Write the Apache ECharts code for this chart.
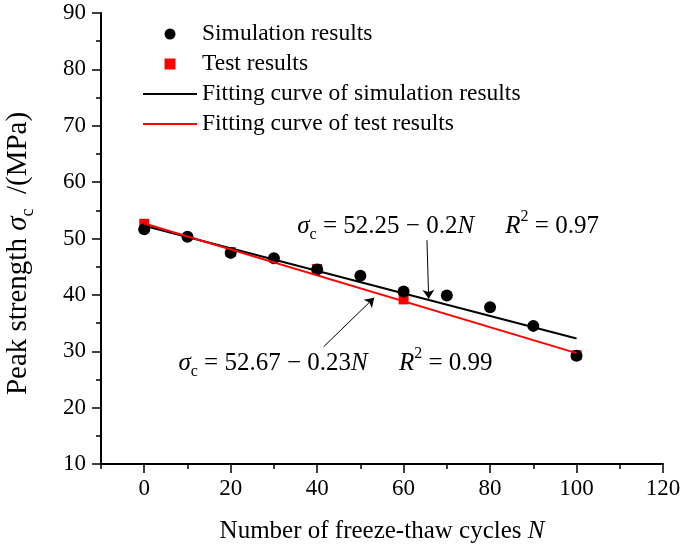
<!DOCTYPE html>
<html>
<head>
<meta charset="utf-8">
<script src="https://cdn.jsdelivr.net/npm/echarts@6/dist/echarts.min.js"></script>
<style>html,body{margin:0;padding:0;background:#fff}#chart{width:685px;height:553px}</style>
</head>
<body>
<div id="chart"></div>
<script>
// ---- data ----
var cycles = [0, 10, 20, 30, 40, 50, 60, 70, 80, 90, 100];
var simValues = [51.65, 50.3, 47.45, 46.5, 44.5, 43.4, 40.6, 39.9, 37.8, 34.5, 29.2];
var testCycles = [0, 20, 40, 60, 100];
var testValues = [52.6, 47.6, 44.6, 39.2, 29.3];
var simFitX = [0, 100];
var simFitY = [52.25, 32.25];
var testFitX = [0, 100];
var testFitY = [52.67, 29.67];
var xMajorTicks = [0, 20, 40, 60, 80, 100, 120];
var seriesNames = ['Simulation results', 'Test results', 'Fitting curve of simulation results', 'Fitting curve of test results'];

function pairs(xs, ys) { return xs.map(function (x, i) { return [x, ys[i]]; }); }

var FONT = 'Liberation Serif';
function makeRich(size, subSize, lh) {
  return {
    t: { fontFamily: FONT, fontSize: size, color: '#000', lineHeight: lh },
    it: { fontFamily: FONT, fontSize: size, fontStyle: 'italic', color: '#000', lineHeight: lh },
    sub: { fontFamily: FONT, fontSize: subSize, color: '#000', lineHeight: subSize, verticalAlign: 'bottom' },
    sup: { fontFamily: FONT, fontSize: subSize, color: '#000', lineHeight: subSize, verticalAlign: 'top' }
  };
}
var eqRich = makeRich(25, 16, 34);
var xNameRich = makeRich(25, 16, 30);
var yNameRich = makeRich(29, 18, 38);

var LINE_ICON = 'path://M0,0L54,0L54,2L0,2Z';
var SQUARE_ICON = 'path://M0,0L10,0L10,10L0,10Z';

var chart = echarts.init(document.getElementById('chart'));
var option = {
  animation: false,
  backgroundColor: '#fff',
  grid: { left: 101, right: 22, top: 13, bottom: 89, outerBoundsMode: 'none', containLabel: false },
  legend: {
    orient: 'vertical', left: 143, top: 22, padding: 0,
    itemWidth: 54, itemHeight: 11, itemGap: 6,
    textStyle: { fontFamily: FONT, fontSize: 23.5, color: '#000' },
    data: [
      { name: seriesNames[0], icon: 'circle', itemStyle: { color: '#000', opacity: 1 } },
      { name: seriesNames[1], icon: SQUARE_ICON, itemStyle: { color: '#f00', opacity: 1 } },
      { name: seriesNames[2], icon: LINE_ICON, itemStyle: { color: '#000' } },
      { name: seriesNames[3], icon: LINE_ICON, itemStyle: { color: '#f00' } }
    ]
  },
  xAxis: [{
    type: 'value', min: -10, max: 120, interval: 10,
    splitLine: { show: false },
    axisLine: { onZero: false, lineStyle: { color: '#000', width: 2 } },
    axisTick: { length: 5, lineStyle: { color: '#000', width: 1.5 } },
    axisLabel: { margin: 13, fontFamily: FONT, fontSize: 23, color: '#000',
      formatter: function (v) { return (v % 20 === 0) ? String(v) : ''; } },
    name: '{t|Number of freeze-thaw cycles }{it|N}',
    nameLocation: 'middle', nameGap: 52,
    nameTextStyle: { rich: xNameRich }
  }, {
    type: 'value', min: -10, max: 120, position: 'bottom', offset: 0,
    splitLine: { show: false },
    axisLine: { show: false },
    axisTick: { length: 9, customValues: xMajorTicks, lineStyle: { color: '#000', width: 1.5 } },
    axisLabel: { show: false, customValues: xMajorTicks }
  }],
  yAxis: {
    type: 'value', min: 10, max: 90, interval: 10,
    splitLine: { show: false },
    axisLine: { onZero: false, lineStyle: { color: '#000', width: 2 } },
    axisTick: { length: 9, lineStyle: { color: '#000', width: 1.5 } },
    minorTick: { show: true, splitNumber: 2, length: 5, lineStyle: { color: '#000', width: 1.5 } },
    axisLabel: { margin: 15, fontFamily: FONT, fontSize: 23, color: '#000' },
    name: '{t|Peak strength }{it|σ}{sub|c}{t|  /(MPa)}',
    nameLocation: 'middle', nameGap: 64, nameRotate: 90,
    nameTextStyle: { rich: yNameRich, padding: [0, 30, 0, 0] }
  },
  series: [
    {
      name: seriesNames[1], type: 'scatter', symbol: 'rect', symbolSize: 10,
      itemStyle: { color: '#f00', opacity: 1 }, z: 2,
      data: pairs(testCycles, testValues)
    },
    {
      name: seriesNames[0], type: 'scatter', symbol: 'circle', symbolSize: 12,
      itemStyle: { color: '#000', opacity: 1 }, z: 3,
      data: pairs(cycles, simValues)
    },
    {
      name: seriesNames[2], type: 'line', symbol: 'none', z: 4,
      lineStyle: { color: '#000', width: 2 }, itemStyle: { color: '#000' },
      data: pairs(simFitX, simFitY),
      markLine: {
        silent: true, symbol: ['none', 'arrow'], symbolSize: 9,
        lineStyle: { color: '#000', width: 1, type: 'solid' }, label: { show: false },
        data: [
          [{ coord: [65.4, 49.7] }, { coord: [65.8, 39.3] }],
          [{ coord: [41.5, 30.8] }, { coord: [53.2, 39.5] }]
        ]
      }
    },
    {
      name: seriesNames[3], type: 'line', symbol: 'none', z: 5,
      lineStyle: { color: '#f00', width: 2 }, itemStyle: { color: '#f00' },
      data: pairs(testFitX, testFitY)
    }
  ]
};
chart.setOption(option);

var p1 = chart.convertToPixel({ gridIndex: 0 }, [35.4, 52.2]);
var p2 = chart.convertToPixel({ gridIndex: 0 }, [7.9, 27.9]);
chart.setOption({
  graphic: [
    { type: 'text', x: p1[0], y: p1[1], style: {
      text: '{it|σ}{sub|c}{t| = 52.25 − 0.2}{it|N}{t|     }{it|R}{sup|2}{t| = 0.97}',
      rich: eqRich, verticalAlign: 'middle', align: 'left' } },
    { type: 'text', x: p2[0], y: p2[1], style: {
      text: '{it|σ}{sub|c}{t| = 52.67 − 0.23}{it|N}{t|     }{it|R}{sup|2}{t| = 0.99}',
      rich: eqRich, verticalAlign: 'middle', align: 'left' } }
  ]
});
</script>
</body>
</html>
